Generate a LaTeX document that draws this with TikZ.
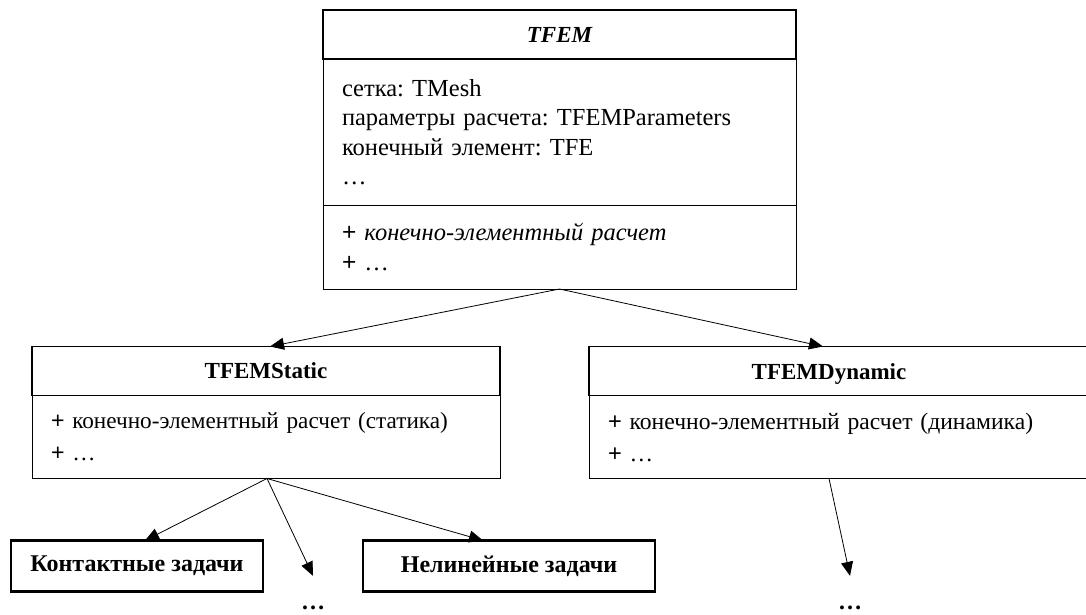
\documentclass[tikz,border=0pt]{standalone}
\usepackage{fontspec}
\setmainfont{Liberation Serif}
\newfontfamily\plusfont{Liberation Sans}
\usetikzlibrary{positioning,arrows.meta}
\newcommand{\umlplus}{{\plusfont +}\ }
\frenchspacing

\begin{document}
\begin{tikzpicture}[x=1pt,y=-1pt,>={Triangle[length=14pt,width=12pt]},
  font=\fontsize{24.5}{29.5}\selectfont,
  head/.style={draw,line width=1.8pt,minimum height=49pt,inner sep=0pt,outer sep=0pt,font=\fontsize{23}{28}\selectfont\bfseries},
  title/.style={inner sep=0pt,anchor=base,font=\fontsize{23}{28}\selectfont\bfseries},
  body/.style={draw,line width=0.8pt,align=left,inner xsep=19pt,inner ysep=0pt,outer sep=0pt},
  task/.style={draw,line width=2.2pt,minimum height=51pt,inner sep=0pt,outer sep=0pt,font=\fontsize{24}{28}\selectfont\bfseries},
  more/.style={inner sep=0pt,font=\fontsize{24}{28}\selectfont\bfseries},
  link/.style={->,line width=0.8pt}]
  \useasboundingbox (0,0) rectangle (1086,615);

  \node[head,minimum width=473pt] (tfem) at (559.5,34.5) {\itshape TFEM};
  \node[body,below=0pt of tfem,text width=435pt,minimum height=146pt] (tfema)
    {сетка: TMesh\\параметры расчета: TFEMParameters\\конечный элемент: TFE\\…};
  \node[body,below=0pt of tfema,text width=435pt,minimum height=84pt] (tfemm)
    {\umlplus\textit{конечно-элементный расчет}\\\umlplus…};

  \node[head,minimum width=468pt] (stath) at (266,371) {TFEMStatic};
  \node[body,below=0pt of stath,text width=430pt,minimum height=83pt,font=\fontsize{23.2}{30}\selectfont] (statb)
    {\umlplus конечно-элементный расчет (статика)\\[2pt]\umlplus…};

  \node[head,minimum width=506pt] (dynh) at (842,371) {};
  \node[title] (dynt) at (829,379) {TFEMDynamic};
  \node[body,below=0pt of dynh,text width=468pt,minimum height=83pt,font=\fontsize{23.6}{30}\selectfont] (dynb)
    {\umlplus конечно-элементный расчет (динамика)\\[2pt]\umlplus…};

  \node[task,minimum width=252pt] (kont) at (137,566) {Контактные задачи};
  \node[task,minimum width=292pt] (nelin) at (509,566) {Нелинейные задачи};
  \node[more] (dotsa) at (313,608) {…};
  \node[more] (dotsb) at (850,608) {…};

  \draw[link] (tfemm.south) -- ([xshift=4pt]stath.north);
  \draw[link] (tfemm.south) -- ([xshift=-19pt]dynh.north);
  \draw[link] ([xshift=1pt]statb.south) -- ([xshift=8pt]kont.north);
  \draw[link] ([xshift=1pt]statb.south) -- ([yshift=30pt]dotsa.north);
  \draw[link] ([xshift=1pt]statb.south) -- ([xshift=-26pt]nelin.north);
  \draw[link] (dynb.south -| dynt) -- ([yshift=30pt]dotsb.north);
\end{tikzpicture}
\end{document}
